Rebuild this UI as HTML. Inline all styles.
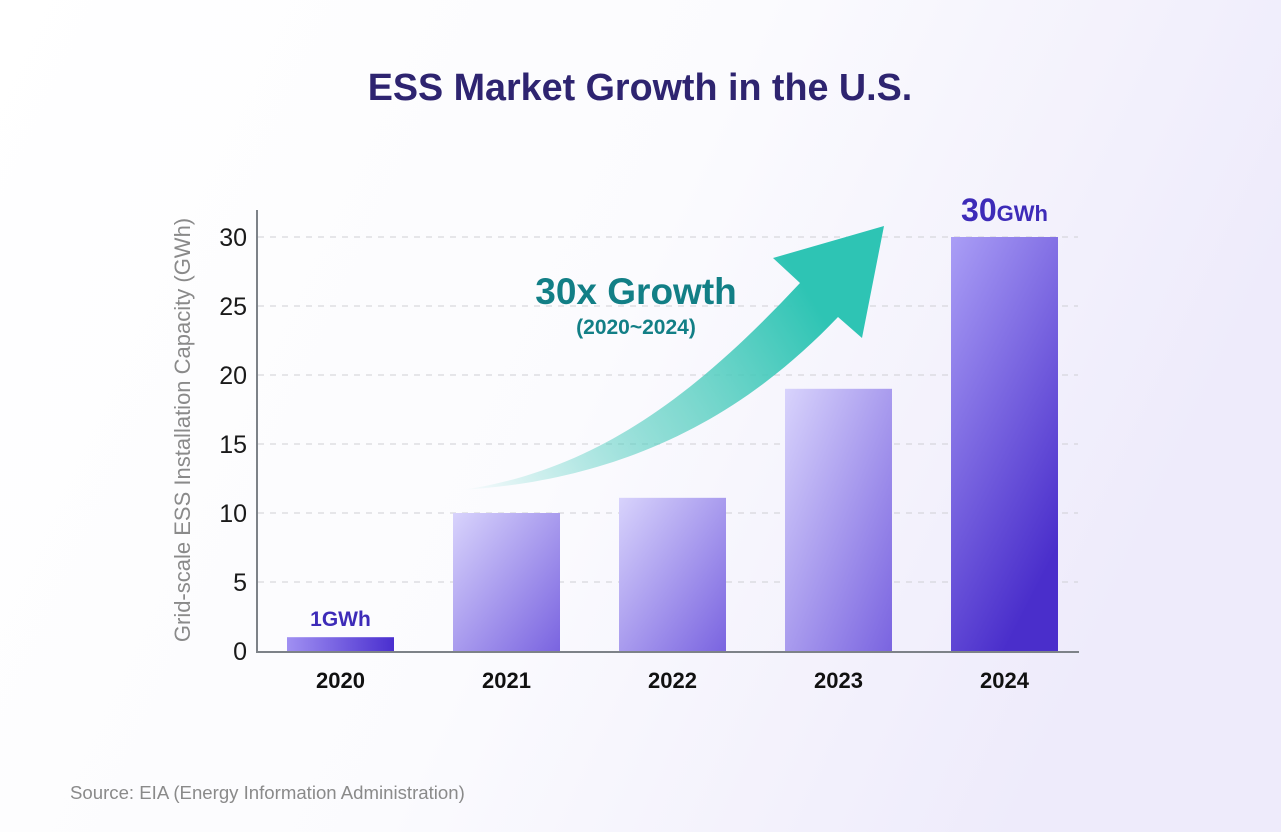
<!DOCTYPE html>
<html><head><meta charset="utf-8"><style>
html,body{margin:0;padding:0;width:1281px;height:832px;overflow:hidden;background:#fff;}
svg{display:block;font-family:"Liberation Sans",sans-serif;}
</style></head><body>
<svg id="chart" width="1281" height="832" viewBox="0 0 1281 832">
<defs>
<linearGradient id="bg" x1="0" y1="0" x2="1" y2="0.3">
<stop offset="0" stop-color="#ffffff"/><stop offset="0.55" stop-color="#fbfbfe"/><stop offset="1" stop-color="#eeebfb"/></linearGradient>
<linearGradient id="g2020" x1="0" y1="0" x2="1" y2="0"><stop offset="0" stop-color="#a090f2"/><stop offset="1" stop-color="#4a2fcf"/></linearGradient>
<linearGradient id="gmid" x1="0" y1="0" x2="1" y2="1"><stop offset="0" stop-color="#d8d3fc"/><stop offset="1" stop-color="#7a64e0"/></linearGradient>
<linearGradient id="g2024" x1="0" y1="0" x2="0.5" y2="1"><stop offset="0" stop-color="#aa9ef6"/><stop offset="1" stop-color="#4a2ecb"/></linearGradient>
<linearGradient id="garrow" x1="462" y1="488" x2="884" y2="226" gradientUnits="userSpaceOnUse">
<stop offset="0" stop-color="#2ec4b4" stop-opacity="0"/><stop offset="0.45" stop-color="#5cd0c2" stop-opacity="0.75"/><stop offset="0.8" stop-color="#2ec4b4"/><stop offset="1" stop-color="#2ec4b4"/></linearGradient>
</defs>
<rect x="0" y="0" width="1281" height="832" fill="url(#bg)"/>
<text x="640" y="100" text-anchor="middle" font-size="37.7" font-weight="bold" fill="#2e2470">ESS Market Growth in the U.S.</text>
<g id="grid"></g>
<g id="yticks"></g>
<text transform="translate(190,430) rotate(-90)" text-anchor="middle" font-size="22" fill="#8a8a8a">Grid-scale ESS Installation Capacity (GWh)</text>
<path d="M462,490 C600,470 700,390 800,283 L773,258 L884,226 L862,338 L838,317 C740,420 620,480 462,490 Z" fill="url(#garrow)"/>
<text x="636" y="304" text-anchor="middle" font-size="37" font-weight="bold" fill="#127f86">30x Growth</text>
<text x="636" y="334" text-anchor="middle" font-size="21" font-weight="bold" fill="#127f86">(2020~2024)</text>
<g id="bars"></g>
<g id="xlabels"></g>
<line x1="257" y1="210" x2="257" y2="652" stroke="#7d8288" stroke-width="2"/>
<line x1="256" y1="652" x2="1079" y2="652" stroke="#7d8288" stroke-width="2"/>
<text x="70" y="799" font-size="18.6" fill="#8a8a8a">Source: EIA (Energy Information Administration)</text>
</svg>
<script>
const categories = ["2020","2021","2022","2023","2024"];
const values = [1, 10, 11.1, 19, 30];
const yTicks = [0, 5, 10, 15, 20, 25, 30];
const valueLabels = ["1GWh", "", "", "", "30"];

const NS = "http://www.w3.org/2000/svg";
const y0 = 651, yPerUnit = (651 - 237) / 30;
function yScale(v){ return y0 - v * yPerUnit; }
const x0 = 287, step = 166, bw = 107;
function xScale(i){ return x0 + i * step; }
function mk(tag, attrs, parent){ const e = document.createElementNS(NS, tag); for (const k in attrs) e.setAttribute(k, attrs[k]); parent.appendChild(e); return e; }

const grid = document.getElementById('grid'), yt = document.getElementById('yticks');
yTicks.forEach(t => {
  if (t > 0) {
    const l = mk('line', {x1:258, x2:1078, y1:yScale(t), y2:yScale(t), stroke:'#cfcfd4', 'stroke-width':1, 'stroke-dasharray':'6,6'}, grid);
    
    
  }
  const tx = mk('text', {x:247, y:yScale(t)+9, 'text-anchor':'end', 'font-size':25, fill:'#1a1a1a'}, yt);
  tx.textContent = t;
  
  
});

const bars = document.getElementById('bars'), xl = document.getElementById('xlabels');
const fills = ['url(#g2020)','url(#gmid)','url(#gmid)','url(#gmid)','url(#g2024)'];
categories.forEach((c, i) => {
  const top = yScale(values[i]);
  const r = mk('rect', {x:xScale(i), y:top, width:bw, height:y0 - top, fill:fills[i % fills.length]}, bars);
  
  
  const t = mk('text', {x:xScale(i)+bw/2, y:688, 'text-anchor':'middle', 'font-size':22, 'font-weight':'bold', fill:'#111'}, xl);
  t.textContent = c;
  
  
  if (valueLabels[i]) {
    const v = mk('text', {x:xScale(i)+bw/2, y:top - (i === categories.length-1 ? 16 : 11), 'text-anchor':'middle', 'font-weight':'bold', fill:'#3d2bb8', 'font-size': i === categories.length-1 ? 32 : 21}, bars);
    v.textContent = valueLabels[i];
    if (i === categories.length-1) { const s = mk('tspan', {'font-size':22}, v); s.textContent = 'GWh'; }
    
    
  }
});
</script>
</body></html>
